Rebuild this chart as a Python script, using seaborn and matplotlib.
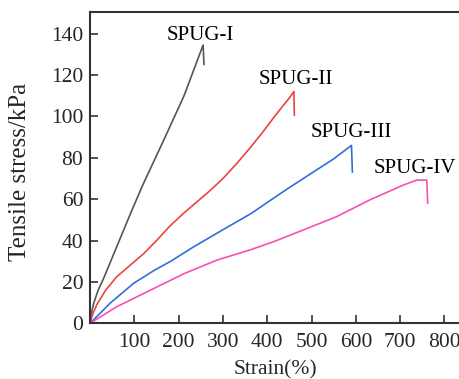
import numpy as np
import pandas as pd
import matplotlib.pyplot as plt
import seaborn as sns

sns.set_style("ticks")
plt.rcParams['font.family'] = ['Liberation Serif', 'DejaVu Serif']

# stress-strain curves
samples = ["SPUG-I", "SPUG-II", "SPUG-III", "SPUG-IV"]
colors = ["#555555", "#ec4340", "#2f6fdc", "#f84fb4"]

strain_1 = [0, 3, 8, 18, 30, 60, 91, 117, 166, 212, 255, 257]
stress_1 = [0, 5, 9.7, 16, 21.5, 37, 53, 66, 88.5, 110, 134.5, 125]

strain_2 = [0, 5, 15, 35, 60, 90, 120, 150, 180, 210, 240, 270, 300, 330, 360,
            390, 420, 450, 460, 461]
stress_2 = [0, 4, 9, 16, 22.5, 28, 33.5, 40, 47, 53, 58.5, 64, 70, 77, 84.5,
            92.5, 101, 109, 112, 100.5]

strain_3 = [0, 45, 98, 144, 182, 234, 302, 363, 404, 442, 503, 550, 590, 592]
stress_3 = [0, 9.7, 19.3, 25.5, 30, 37, 45.5, 53, 59, 64.5, 73, 79.5, 86, 73]

strain_4 = [0, 60, 136, 212, 287, 363, 416, 480, 556, 631, 707, 737, 760, 762]
stress_4 = [0, 8, 16, 24, 30.6, 35.6, 39.6, 45, 51.5, 59.6, 66.8, 69.2, 69.2, 58]

# label anchor (strain, stress)
label_x = [248, 464, 590, 733]
label_y = [139, 118, 92, 75]

xticks = [100, 200, 300, 400, 500, 600, 700, 800]
yticks = [0, 20, 40, 60, 80, 100, 120, 140]

frames = []
for name, sx, sy in zip(samples, [strain_1, strain_2, strain_3, strain_4],
                        [stress_1, stress_2, stress_3, stress_4]):
    frames.append(pd.DataFrame({"strain": sx, "stress": sy, "sample": name}))
df = pd.concat(frames, ignore_index=True)

fig = plt.figure(figsize=(4.6, 3.79), dpi=100)
ax = fig.add_axes([0.196, 0.147, 0.804, 0.821])

sns.lineplot(data=df, x="strain", y="stress", hue="sample", palette=colors,
             sort=False, estimator=None, units="sample", linewidth=1.2,
             legend=False, ax=ax)

for name, lx, ly in zip(samples, label_x, label_y):
    ax.text(lx, ly, name, fontsize=15, ha="center", va="center", color="black")

ax.set_xlim(0, 835)
ax.set_ylim(0, 150.4)
ax.set_xticks(xticks)
ax.set_yticks(yticks)
ax.tick_params(direction="in", length=6, width=1.2, labelsize=15.5, color="#333333")
ax.tick_params(axis="x", pad=7)
ax.tick_params(axis="y", pad=5)
ax.set_xlabel("Strain(%)", fontsize=15.5)
ax.xaxis.set_label_coords(0.5, -0.118)
ax.set_ylabel("Tensile stress/kPa", fontsize=18)
ax.yaxis.set_label_coords(-0.16, 0.486)
for side in ["left", "bottom", "top"]:
    ax.spines[side].set_linewidth(1.5)
    ax.spines[side].set_color("#333333")
ax.spines["right"].set_visible(False)

plt.savefig("out.png", dpi=100)
